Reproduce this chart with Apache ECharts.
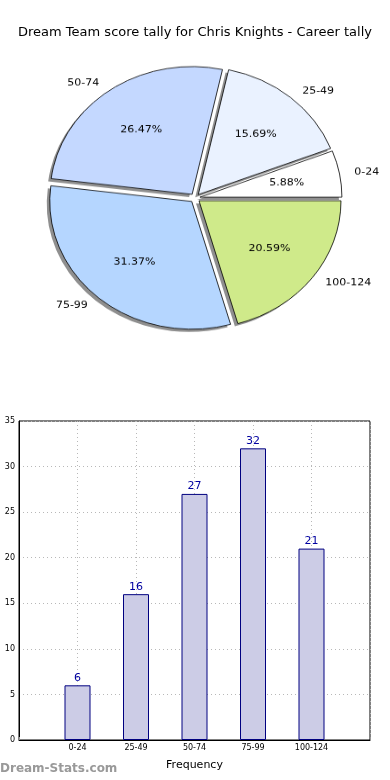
<!DOCTYPE html>
<html><head><meta charset="utf-8">
<script src="https://cdn.jsdelivr.net/npm/echarts@6/dist/echarts.min.js"></script>
<style>
html,body{margin:0;padding:0;background:#fff;}
#main{position:absolute;left:0;top:0;width:390px;height:780px;}
#pie{position:absolute;left:0;top:0;width:390px;height:400px;transform:scaleY(0.9);transform-origin:195px 198px;}
</style></head>
<body>
<div id="main"></div>
<div id="pie"></div>
<script>
const titleText = 'Dream Team score tally for Chris Knights - Career tally';
const yAxisTitle = 'Score Instances';
const xAxisTitle = 'Frequency';
const categories = ['0-24', '25-49', '50-74', '75-99', '100-124'];
const counts = [6, 16, 27, 32, 21];
const pieColors = ['#ffffff', '#eaf2ff', '#c4d8ff', '#b5d6ff', '#cfea8a'];
const yTicks = {min: 0, max: 35, interval: 5};

const FONT = 'DejaVu Sans';

const main = echarts.init(document.getElementById('main'), null, {renderer: 'canvas'});
const xCats = [''].concat(categories).concat(['']);
const barData = ['-'].concat(counts).concat(['-']);
main.setOption({
  animation: false,
  textStyle: {fontFamily: FONT},
  title: {text: titleText, left: 'center', top: 21,
    textStyle: {fontFamily: FONT, fontSize: 13, fontWeight: 'normal', color: '#000'}},
  graphic: [
    {type: 'text', left: 0, top: 763,
      style: {text: 'Dream-Stats.com', fontFamily: FONT, fontSize: 12, fontWeight: 'bold', fill: '#999999'}},
    {type: 'text', x: 3, y: 581, rotation: Math.PI / 2,
      style: {text: yAxisTitle, fontFamily: FONT, fontSize: 11, fill: '#000', align: 'center', verticalAlign: 'bottom'}}
  ],
  grid: {left: 19, right: 20, top: 421, bottom: 40, show: true, borderColor: '#000', borderWidth: 1,
    containLabel: false, outerBoundsMode: 'none'},
  xAxis: {type: 'category', data: xCats, boundaryGap: false,
    name: xAxisTitle, nameLocation: 'middle', nameGap: 20,
    nameTextStyle: {fontFamily: FONT, fontSize: 11, color: '#000'},
    axisLine: {lineStyle: {color: '#000'}},
    axisTick: {show: true, inside: true, length: 3, lineStyle: {color: '#999'}},
    axisLabel: {fontFamily: FONT, fontSize: 8, color: '#000', margin: 4, interval: 0},
    splitLine: {show: true, lineStyle: {color: '#b8b8b8', type: [1, 3], width: 1}}},
  yAxis: {type: 'value', min: yTicks.min, max: yTicks.max, interval: yTicks.interval,
    axisLine: {show: true, lineStyle: {color: '#000'}},
    axisTick: {show: false},
    axisLabel: {fontFamily: FONT, fontSize: 8, color: '#000', margin: 4},
    splitLine: {show: true, lineStyle: {color: '#b8b8b8', type: [1, 3], width: 1}}},
  series: [{type: 'bar', data: barData, barWidth: 26,
    itemStyle: {color: '#ccccE6', borderColor: '#000080', borderWidth: 1},
    label: {show: true, position: 'top', distance: 2, fontFamily: FONT, fontSize: 11, color: '#0000a0'}}]
});

const pie = echarts.init(document.getElementById('pie'), null, {renderer: 'canvas'});
const R = 142;
const CX = 195, CY = 198;
const pieData = categories.map((c, i) => ({name: c, value: counts[i], selected: true,
  itemStyle: {color: pieColors[i]}}));
const plainData = categories.map((c, i) => ({name: c, value: counts[i], selected: true}));
pie.setOption({
  animation: false,
  series: [
    {type: 'pie', center: [CX - 3, CY + 3], radius: [0, R], startAngle: 0, clockwise: false,
      selectedMode: 'multiple', selectedOffset: 5, silent: true, z: 1,
      data: plainData,
      itemStyle: {color: '#8f8f8f', borderWidth: 0},
      label: {show: false}, labelLine: {show: false},
      emphasis: {disabled: true}},
    {type: 'pie', center: [CX, CY], radius: [0, R], startAngle: 0, clockwise: false,
      selectedMode: 'multiple', selectedOffset: 5, avoidLabelOverlap: false, z: 2,
      data: pieData,
      itemStyle: {borderColor: '#000', borderWidth: 0.8},
      label: {show: true, position: 'outside', fontFamily: FONT, fontSize: 11, color: '#000', formatter: '{b}'},
      labelLine: {show: false, length: 10, length2: 0},
      emphasis: {disabled: true}},
    {type: 'pie', center: [CX, CY], radius: [0, R * 1.2], startAngle: 0, clockwise: false,
      selectedMode: 'multiple', selectedOffset: 5, avoidLabelOverlap: false, silent: true, z: 3,
      percentPrecision: 2,
      data: plainData,
      itemStyle: {color: 'rgba(0,0,0,0)', borderWidth: 0},
      label: {show: true, position: 'inside', fontFamily: FONT, fontSize: 11, color: '#000', formatter: '{d}%'},
      labelLine: {show: false},
      emphasis: {disabled: true}}
  ]
});
</script>
</body></html>
